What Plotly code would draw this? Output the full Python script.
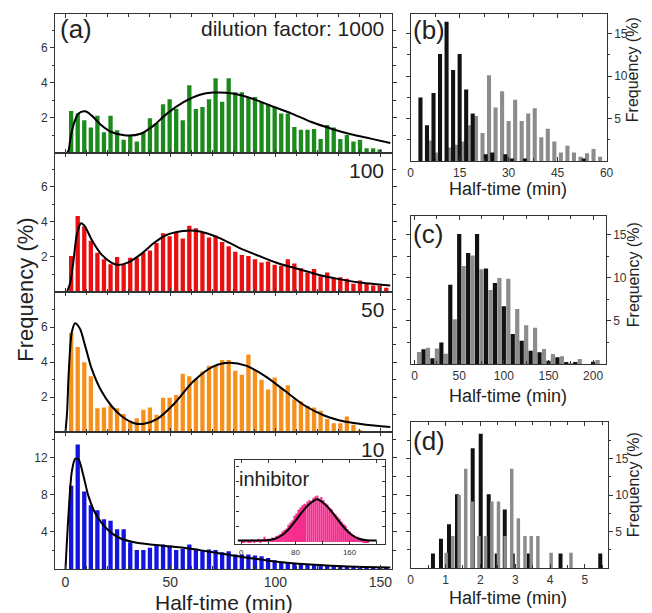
import plotly.graph_objects as go

# ---------------- data ----------------
# Panel (a): histograms of half-time (min), bins of equal width
A_BIN_START = 2.8
A_BIN_WIDTH = 3.125
green_1000 = [2.4, 2.25, 1.87, 1.45, 2.13, 1.18, 2.13, 1.3, 0.76, 1.0, 0.65, 1.18, 1.98, 1.71,
              2.78, 3.07, 2.53, 1.87, 3.87, 2.51, 2.63, 3.07, 4.27, 2.93, 4.27, 3.47, 3.47, 3.2,
              3.2, 2.9, 2.76, 2.63, 2.25, 2.25, 1.49, 1.33, 1.33, 1.37, 0.8, 1.6, 1.45, 0.8,
              1.03, 0.65, 0.76, 0.27, 0.27, 0.2]
red_100 = [2.06, 4.34, 3.74, 2.93, 2.24, 1.87, 1.59, 2.0, 1.59, 1.96, 1.96, 2.24, 2.37, 2.8,
           3.36, 3.18, 3.42, 3.05, 3.79, 3.64, 3.4, 3.12, 3.23, 2.86, 2.62, 2.3, 2.11, 2.06,
           1.87, 1.68, 1.74, 1.55, 1.5, 1.87, 1.63, 1.36, 1.12, 1.31, 0.9, 1.12, 0.8, 0.84,
           0.75, 0.47, 0.65, 0.47, 0.37, 0.37, 0.24]
orange_50 = [5.66, 4.86, 3.98, 3.18, 1.36, 1.4, 1.5, 1.36, 1.03, 0.65, 0.79, 1.27, 1.4, 0.99,
             1.96, 1.96, 2.11, 3.33, 3.18, 3.05, 3.46, 3.79, 3.83, 4.11, 4.11, 3.5, 3.27, 4.43,
             3.55, 2.99, 2.43, 3.12, 2.52, 2.67, 1.87, 1.74, 1.5, 1.4, 1.21, 0.75, 0.5, 0.5,
             0.88, 0.41, 0.09]
blue_10 = [9.0, 13.45, 8.36, 6.9, 6.36, 5.38, 5.2, 4.3, 4.3, 2.9, 2.04, 2.04, 2.29, 2.65, 2.65,
           2.55, 2.04, 2.18, 2.65, 2.18, 2.04, 2.11, 2.04, 1.82, 1.93, 1.56, 1.56, 1.56, 1.45,
           1.38, 1.2, 0.95, 0.73, 0.65, 0.58, 0.55, 0.47, 0.47, 0.47, 0.4, 0.4, 0.36, 0.29,
           0.29, 0.29, 0.22, 0.22, 0.22, 0.18]

# fitted curves (x in min, y in %)
fit_1000_x = [0.8, 1.6, 2.3, 3.9, 6.3, 9.4, 12.5, 17.2, 21.9, 28.9, 35.9, 42.2, 48.4, 56.3, 64.1,
              70.3, 79.7, 89.1, 98.4, 107.8, 117.2, 126.6, 136.0, 145.4, 154.7]
fit_1000_y = [0.0, 0.15, 0.7, 1.6, 2.25, 2.38, 2.15, 1.58, 1.2, 1.0, 1.1, 1.58, 2.25, 2.9, 3.33,
              3.45, 3.4, 3.1, 2.67, 2.25, 1.77, 1.39, 1.07, 0.82, 0.57]
fit_100_x = [0.8, 2.3, 3.9, 5.5, 7.5, 9.4, 12.5, 17.2, 21.9, 25.0, 29.7, 35.9, 42.2, 48.4, 57.8,
             64.1, 73.5, 82.8, 92.2, 101.6, 111.0, 120.4, 129.7, 139.1, 154.7]
fit_100_y = [0.0, 0.5, 1.78, 3.27, 3.93, 3.74, 3.0, 2.15, 1.68, 1.55, 1.68, 2.15, 2.8, 3.27, 3.5,
             3.46, 3.08, 2.52, 2.06, 1.63, 1.31, 0.99, 0.75, 0.56, 0.37]
fit_50_x = [0.1, 0.9, 1.6, 3.1, 4.7, 7.0, 9.4, 12.5, 17.2, 21.9, 26.6, 32.8, 37.5, 43.8, 51.6,
            61.0, 70.3, 78.1, 86.0, 95.3, 104.7, 114.1, 123.5, 132.9, 142.3, 154.7]
fit_50_y = [0.0, 1.2, 3.27, 5.7, 6.22, 5.9, 4.95, 3.64, 2.34, 1.5, 0.93, 0.5, 0.47, 0.75, 1.59,
            2.9, 3.74, 3.96, 3.79, 3.18, 2.34, 1.5, 0.93, 0.6, 0.43, 0.28]
fit_10_x = [0.1, 1.6, 3.1, 4.7, 6.3, 8.6, 11.0, 14.1, 17.2, 21.9, 26.6, 32.8, 40.7, 48.5, 56.3,
            64.1, 71.9, 79.7, 87.5, 95.3, 103.2, 111.0, 118.8, 126.6, 142.3, 154.7]
fit_10_y = [0.0, 6.1, 10.5, 11.9, 11.85, 10.1, 7.9, 6.1, 5.0, 3.9, 3.27, 2.9, 2.65, 2.47, 2.29,
            2.04, 1.75, 1.45, 1.2, 0.95, 0.73, 0.58, 0.47, 0.36, 0.22, 0.15]

# inset: inhibitor
INH_BIN_START = 1.5
INH_BIN_WIDTH = 3.0
inhibitor = [0.12, 0.10, 0.15, 0.08, 0.12, 0.18, 0.10, 0.14, 0.22, 0.12,
             0.15, 0.35, 0.18, 0.22, 0.20,
             0.3, 0.25, 0.4, 0.45, 0.55, 0.7, 0.8, 0.9, 1.15, 1.3, 1.45, 1.75, 1.9, 2.15, 2.3,
             2.45, 2.55, 2.7, 2.8, 2.75, 2.95, 3.05, 3.1, 2.9, 3.0, 2.8, 2.6, 2.5, 2.3, 2.2,
             1.95, 1.85, 1.7, 1.55, 1.35, 1.2, 1.1, 0.85, 0.7, 0.55, 0.45, 0.3, 0.35, 0.2,
             0.15, 0.1, 0.08, 0.05]
fit_inh_x = [-5, 20, 40, 50, 60, 70, 80, 90, 100, 112, 124, 134, 144, 154, 164, 174, 185, 200]
fit_inh_y = [0.1, 0.1, 0.13, 0.22, 0.45, 0.85, 1.4, 2.0, 2.5, 2.85, 2.5, 2.0, 1.4, 0.85, 0.45,
             0.22, 0.12, 0.1]

# panel (b)
b_black_x = [3, 5, 7, 9, 11, 13, 15, 17, 19, 21, 23, 25, 27, 29, 31, 33, 35, 53]
b_black_y = [7.46, 4.2, 8.0, 12.6, 16.4, 10.7, 12.6, 8.4, 5.6, 0, 0.8, 1.0, 0, 0.8, 0.3, 0, 0.3, 0.3]
b_gray_x = [6, 8, 12, 14, 16, 18, 20, 22, 24, 26, 28, 30, 32, 34, 36, 38, 40, 42, 44, 46, 48,
            50, 52, 54, 56, 58]
b_gray_y = [2.4, 1.0, 1.6, 1.9, 2.3, 4.2, 5.3, 3.3, 10.1, 6.3, 8.2, 4.7, 7.2, 4.7, 5.6, 6.2,
            2.8, 3.8, 2.3, 1.0, 1.8, 1.0, 0.5, 0.9, 1.4, 0.5]

# panel (c)
c_black_x = [10, 20, 30, 40, 50, 60, 70, 80, 90, 100, 110, 120, 130, 140, 150, 160, 170, 180, 190, 200]
c_black_y = [1.7, 0.66, 2.5, 9.2, 15.1, 12.9, 15.1, 11.1, 9.4, 6.7, 3.5, 2.7, 1.55, 1.36, 0.39,
             0.78, 0.2, 0.19, 0, 0.27]
c_gray_x = [5, 15, 25, 35, 45, 55, 65, 75, 85, 95, 105, 115, 125, 135, 145, 155, 165, 175, 185, 195, 205]
c_gray_y = [1.4, 1.9, 1.8, 1.2, 5.2, 11.4, 12.6, 11.0, 8.6, 10.0, 9.9, 6.4, 4.5, 4.2, 1.74,
            1.16, 0.89, 0.1, 0.58, 0, 0.47]

# panel (d)
d_black_x = [0.64, 0.87, 1.10, 1.33, 1.78, 2.01, 2.24, 2.47, 2.70, 2.93, 3.39, 4.30, 5.44]
d_black_y = [2.0, 4.0, 6.0, 10.1, 16.4, 18.4, 10.1, 2.0, 8.0, 2.0, 2.0, 2.0, 2.0]
d_gray_x = [1.02, 1.21, 1.39, 1.58, 1.77, 1.96, 2.15, 2.33, 2.52, 2.71, 2.90, 3.09, 3.28,
            3.46, 3.65, 4.03, 4.60]
d_gray_y = [2.1, 4.4, 10.0, 13.6, 9.1, 4.4, 4.4, 9.1, 9.1, 4.4, 13.6, 6.8, 4.4, 4.4, 4.4, 2.1, 2.1]

# ---------------- styling ----------------
W, H = 652, 613
AX = '#333333'
FONT = 'Liberation Sans, Arial, sans-serif'
GREEN, RED, ORANGE, BLUE, PINK = '#1c8a1c', '#e81010', '#f5901c', '#1414e0', '#f52e8e'
BLACK, GRAY = '#111111', '#8c8c8c'


def dx(x0, x1):
    return [x0 / W, x1 / W]


def dy(y0, y1):
    return [1 - y1 / H, 1 - y0 / H]


def centers(start, width, n):
    return [start + width * i for i in range(n)]


fig = go.Figure()


def bars(x, y, color, ax, width, opacity=1.0):
    fig.add_trace(go.Bar(x=x, y=y, marker=dict(color=color, line=dict(width=0)), width=width,
                         xaxis='x' + ax, yaxis='y' + ax, opacity=opacity, hoverinfo='x+y'))


def curve(x, y, ax):
    fig.add_trace(go.Scatter(x=x, y=y, mode='lines', line=dict(color='black', width=2, shape='spline',
                                                            smoothing=0.8),
                             xaxis='x' + ax, yaxis='y' + ax, hoverinfo='skip'))


# panel (a)
for ax, vals, col, fx, fy in [('', green_1000, GREEN, fit_1000_x, fit_1000_y),
                              ('2', red_100, RED, fit_100_x, fit_100_y),
                              ('3', orange_50, ORANGE, fit_50_x, fit_50_y),
                              ('4', blue_10, BLUE, fit_10_x, fit_10_y)]:
    bars(centers(A_BIN_START, A_BIN_WIDTH, len(vals)), vals, col, ax, 2.05)
    curve(fx, fy, ax)

# panel (b): gray behind black
bars(b_gray_x, b_gray_y, GRAY, '5', 1.25)
bars(b_black_x, b_black_y, BLACK, '5', 1.25)
# panel (c)
bars(c_gray_x, c_gray_y, GRAY, '6', 4.7)
bars(c_black_x, c_black_y, BLACK, '6', 4.7)
# panel (d): gray in front
bars(d_black_x, d_black_y, BLACK, '7', 0.115)
bars(d_gray_x, d_gray_y, GRAY, '7', 0.1)
# inset
bars(centers(INH_BIN_START, INH_BIN_WIDTH, len(inhibitor)), inhibitor, PINK, '8', 2.6)
curve(fit_inh_x, fit_inh_y, '8')


def xax(domain, rng, anchor, tickvals, minor, show=True, size=14):
    return dict(domain=domain, range=rng, anchor=anchor, showline=True, linecolor=AX, linewidth=1.3,
                mirror='ticks', ticks='inside', ticklen=4, tickwidth=1, tickcolor=AX,
                tickvals=tickvals, showticklabels=show, showgrid=False, zeroline=False,
                tickfont=dict(size=size, color='#333', family=FONT),
                minor=dict(tickvals=minor, ticks='inside', ticklen=2.5, tickcolor=AX))


def yax(domain, rng, anchor, tickvals, minor, side='left', size=12, ticks='outside', show=True):
    return dict(domain=domain, range=rng, anchor=anchor, side=side, showline=True, linecolor=AX,
                linewidth=1.3, mirror='ticks', ticks=ticks, ticklen=4, tickwidth=1, tickcolor=AX,
                tickvals=tickvals, showticklabels=show, showgrid=False, zeroline=False,
                tickfont=dict(size=size, color='#333', family=FONT),
                minor=dict(tickvals=minor, ticks=ticks, ticklen=2.5, tickcolor=AX))


A_XR = [-4.8, 155.5]
A_XT = [0, 50, 100, 150]
A_XM = [10, 20, 30, 40, 60, 70, 80, 90, 110, 120, 130, 140]
AXD = dx(53, 395)

layout = dict(
    width=W, height=H, margin=dict(l=0, r=0, t=0, b=0), plot_bgcolor='rgba(0,0,0,0)',
    paper_bgcolor='white', showlegend=False, barmode='overlay', font=dict(family=FONT, color='#222'),
    xaxis=xax(AXD, A_XR, 'y', A_XT, A_XM, show=False),
    yaxis=yax(dy(14, 153), [0, 7.94], 'x', [2, 4, 6], [1, 3, 5, 7]),
    xaxis2=xax(AXD, A_XR, 'y2', A_XT, A_XM, show=False),
    yaxis2=yax(dy(153, 292), [0, 7.94], 'x2', [2, 4, 6], [1, 3, 5, 7]),
    xaxis3=xax(AXD, A_XR, 'y3', A_XT, A_XM, show=False),
    yaxis3=yax(dy(292, 432), [0, 8.0], 'x3', [2, 4, 6], [1, 3, 5, 7]),
    xaxis4=xax(AXD, A_XR, 'y4', A_XT, A_XM, show=True, size=14),
    yaxis4=yax(dy(432, 569), [0, 14.8], 'x4', [4, 8, 12], [2, 6, 10, 14]),
    xaxis5=xax(dx(414, 613), [0, 60], 'y5', [0, 15, 30, 45, 60], [7.5, 22.5, 37.5, 52.5], size=12),
    yaxis5=yax(dy(14, 161), [0, 17.3], 'x5', [5, 10, 15], [2.5, 7.5, 12.5], side='right'),
    xaxis6=xax(dx(414, 612), [-4.4, 214], 'y6', [0, 50, 100, 150, 200], [25, 75, 125, 175], size=12),
    yaxis6=yax(dy(216, 364), [0, 17.2], 'x6', [5, 10, 15], [2.5, 7.5, 12.5], side='right'),
    xaxis7=xax(dx(414, 614), [0, 5.65], 'y7', [0, 1, 2, 3, 4, 5], [0.5, 1.5, 2.5, 3.5, 4.5, 5.5], size=12),
    yaxis7=yax(dy(422, 568), [0, 20], 'x7', [5, 10, 15], [2.5, 7.5, 12.5, 17.5], side='right'),
    xaxis8=xax(dx(236, 388), [-8.7, 212.4], 'y8', [0, 80, 160], [40, 120, 200], size=8),
    yaxis8=yax(dy(460, 544), [-0.13, 5.45], 'x8', [1, 2, 3, 4, 5], [], ticks='inside', show=False),
)
layout['xaxis8']['ticklen'] = 3
layout['yaxis8']['ticklen'] = 3
fig.update_layout(**layout)


def ann(text, x, y, size, xanchor='center', yanchor='middle', angle=0, color='#222'):
    fig.add_annotation(text=text, x=x / W, y=1 - y / H, xref='paper', yref='paper', showarrow=False,
                       xanchor=xanchor, yanchor=yanchor, textangle=angle,
                       font=dict(size=size, family=FONT, color=color))


ann('(a)', 56, 29, 26, xanchor='left')
ann('dilution factor: 1000', 389, 29, 21, xanchor='right')
ann('100', 389, 171, 21, xanchor='right')
ann('50', 389, 309, 21, xanchor='right')
ann('10', 389, 449, 21, xanchor='right')
ann('inhibitor', 238, 479, 20, xanchor='left')
ann('(b)', 414, 30, 26, xanchor='left')
ann('(c)', 414, 234, 26, xanchor='left')
ann('(d)', 414, 441, 26, xanchor='left')
ann('Frequency (%)', 22, 290, 22, angle=-90)
ann('Half-time (min)', 224, 602, 21)
for yy in (70, 275, 485):
    ann('Frequency (%)', 640, yy, 16, angle=-90)
for yy in (189, 396, 598):
    ann('Half-time (min)', 513, yy, 18)

fig.write_html('out.html')
